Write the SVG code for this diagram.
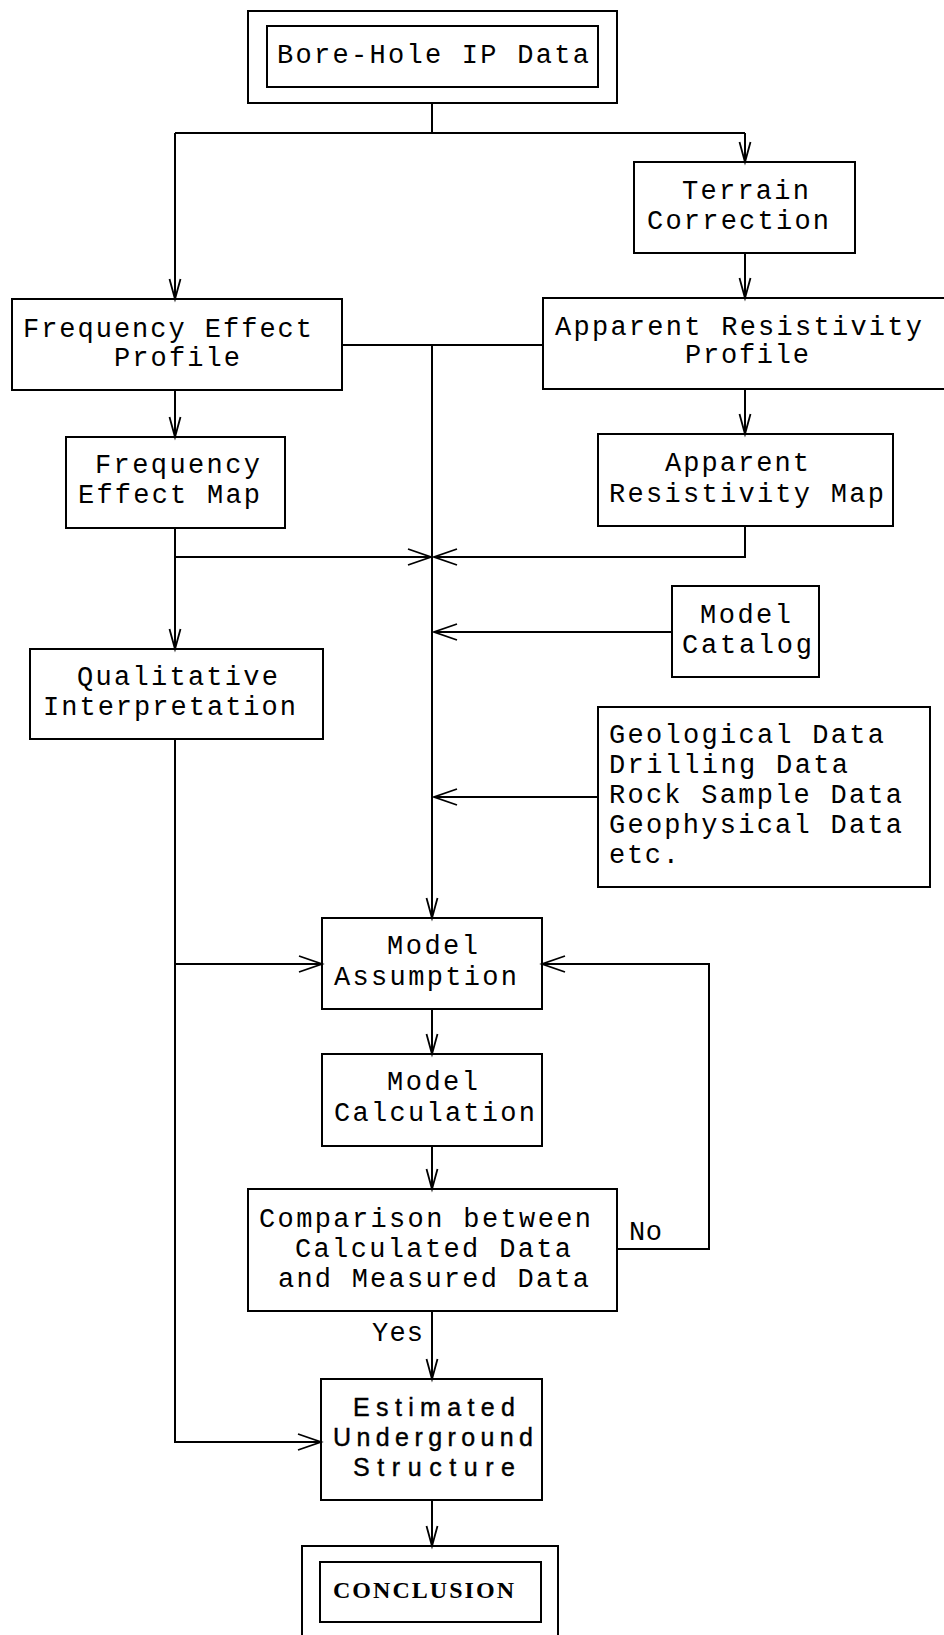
<svg xmlns="http://www.w3.org/2000/svg" width="944" height="1635" viewBox="0 0 944 1635">
<style>
.bx{fill:none;stroke:#000;stroke-width:2}
.ln{fill:none;stroke:#000;stroke-width:2}
.t{font-family:"Liberation Mono","DejaVu Sans Mono",monospace;font-size:27px;fill:#000}
.s{font-family:"Liberation Sans","Arial",sans-serif;font-size:25px;fill:#000;stroke:#000;stroke-width:0.4}
.c{font-family:"Liberation Serif","Times New Roman",serif;font-size:24px;font-weight:bold;fill:#000}
</style>
<defs>
<marker id="av" markerUnits="userSpaceOnUse" markerWidth="24" markerHeight="14" refX="0" refY="0" orient="auto" overflow="visible">
<path d="M-20,-5.5 L0,0 L-20,5.5" fill="none" stroke="#000" stroke-width="1.8"/>
</marker>
<marker id="ah" markerUnits="userSpaceOnUse" markerWidth="26" markerHeight="18" refX="0" refY="0" orient="auto" overflow="visible">
<path d="M-23,-8 L0,0 L-23,8" fill="none" stroke="#000" stroke-width="1.8"/>
</marker>
</defs>

<g id="connectors">
<path class="ln" d="M432,103 V133"/>
<path class="ln" d="M175,133 H745"/>
<path class="ln" d="M175,133 V299" marker-end="url(#av)"/>
<path class="ln" d="M745,133 V162" marker-end="url(#av)"/>
<path class="ln" d="M745,253 V298" marker-end="url(#av)"/>
<path class="ln" d="M342,345 H543"/>
<path class="ln" d="M432,345 V918" marker-end="url(#av)"/>
<path class="ln" d="M175,390 V437" marker-end="url(#av)"/>
<path class="ln" d="M745,389 V434" marker-end="url(#av)"/>
<path class="ln" d="M175,528 V649" marker-end="url(#av)"/>
<path class="ln" d="M175,557 H431" marker-end="url(#ah)"/>
<path class="ln" d="M745,526 V557 H434" marker-end="url(#ah)"/>
<path class="ln" d="M672,632 H434" marker-end="url(#ah)"/>
<path class="ln" d="M598,797 H434" marker-end="url(#ah)"/>
<path class="ln" d="M175,739 V1442 H321" marker-end="url(#ah)"/>
<path class="ln" d="M175,964 H322" marker-end="url(#ah)"/>
<path class="ln" d="M432,1009 V1054" marker-end="url(#av)"/>
<path class="ln" d="M432,1146 V1189" marker-end="url(#av)"/>
<path class="ln" d="M617,1249 H709 V964 H542" marker-end="url(#ah)"/>
<path class="ln" d="M432,1311 V1379" marker-end="url(#av)"/>
<path class="ln" d="M432,1500 V1546" marker-end="url(#av)"/>
<text class="t" x="629" y="1240" textLength="33" lengthAdjust="spacing">No</text>
<text class="t" x="372" y="1341" textLength="51" lengthAdjust="spacing">Yes</text>
</g>

<g id="bore">
<rect class="bx" x="248" y="11" width="369" height="92"/>
<rect class="bx" x="267" y="26" width="331" height="61"/>
<text class="t" x="277" y="63" textLength="312" lengthAdjust="spacing">Bore-Hole IP Data</text>
</g>

<g id="terrain">
<rect class="bx" x="634" y="162" width="221" height="91"/>
<text class="t" x="682" y="199" textLength="127" lengthAdjust="spacing">Terrain</text>
<text class="t" x="647" y="229" textLength="182" lengthAdjust="spacing">Correction</text>
</g>

<g id="fep">
<rect class="bx" x="12" y="299" width="330" height="91"/>
<text class="t" x="23" y="337" textLength="289" lengthAdjust="spacing">Frequency Effect</text>
<text class="t" x="114" y="366" textLength="126" lengthAdjust="spacing">Profile</text>
</g>

<g id="arp">
<rect class="bx" x="543" y="298" width="410" height="91"/>
<text class="t" x="555" y="335" textLength="367" lengthAdjust="spacing">Apparent Resistivity</text>
<text class="t" x="685" y="363" textLength="124" lengthAdjust="spacing">Profile</text>
</g>

<g id="fem">
<rect class="bx" x="66" y="437" width="219" height="91"/>
<text class="t" x="95" y="473" textLength="165" lengthAdjust="spacing">Frequency</text>
<text class="t" x="78" y="503" textLength="182" lengthAdjust="spacing">Effect Map</text>
</g>

<g id="arm">
<rect class="bx" x="598" y="434" width="295" height="92"/>
<text class="t" x="665" y="471" textLength="144" lengthAdjust="spacing">Apparent</text>
<text class="t" x="609" y="502" textLength="275" lengthAdjust="spacing">Resistivity Map</text>
</g>

<g id="catalog">
<rect class="bx" x="672" y="586" width="147" height="91"/>
<text class="t" x="700" y="623" textLength="91" lengthAdjust="spacing">Model</text>
<text class="t" x="682" y="653" textLength="130" lengthAdjust="spacing">Catalog</text>
</g>

<g id="qi">
<rect class="bx" x="30" y="649" width="293" height="90"/>
<text class="t" x="77" y="685" textLength="201" lengthAdjust="spacing">Qualitative</text>
<text class="t" x="43" y="715" textLength="253" lengthAdjust="spacing">Interpretation</text>
</g>

<g id="geo">
<rect class="bx" x="598" y="707" width="332" height="180"/>
<text class="t" x="609" y="743" textLength="275" lengthAdjust="spacing">Geological Data</text>
<text class="t" x="609" y="773" textLength="239" lengthAdjust="spacing">Drilling Data</text>
<text class="t" x="609" y="803" textLength="293" lengthAdjust="spacing">Rock Sample Data</text>
<text class="t" x="609" y="833" textLength="293" lengthAdjust="spacing">Geophysical Data</text>
<text class="t" x="609" y="863" textLength="70" lengthAdjust="spacing">etc.</text>
</g>

<g id="assumption">
<rect class="bx" x="322" y="918" width="220" height="91"/>
<text class="t" x="387" y="954" textLength="91" lengthAdjust="spacing">Model</text>
<text class="t" x="334" y="985" textLength="183" lengthAdjust="spacing">Assumption</text>
</g>

<g id="calculation">
<rect class="bx" x="322" y="1054" width="220" height="92"/>
<text class="t" x="387" y="1090" textLength="91" lengthAdjust="spacing">Model</text>
<text class="t" x="334" y="1121" textLength="201" lengthAdjust="spacing">Calculation</text>
</g>

<g id="comparison">
<rect class="bx" x="248" y="1189" width="369" height="122"/>
<text class="t" x="259" y="1227" textLength="332" lengthAdjust="spacing">Comparison between</text>
<text class="t" x="295" y="1257" textLength="276" lengthAdjust="spacing">Calculated Data</text>
<text class="t" x="278" y="1287" textLength="311" lengthAdjust="spacing">and Measured Data</text>
</g>

<g id="estimated">
<rect class="bx" x="321" y="1379" width="221" height="121"/>
<text class="s" x="353" y="1416" textLength="162" lengthAdjust="spacing">Estimated</text>
<text class="s" x="333" y="1446" textLength="200" lengthAdjust="spacing">Underground</text>
<text class="s" x="353" y="1476" textLength="162" lengthAdjust="spacing">Structure</text>
</g>

<g id="conclusion">
<rect class="bx" x="302" y="1546" width="256" height="100"/>
<rect class="bx" x="320" y="1562" width="221" height="60"/>
<text class="c" x="333" y="1598" textLength="181" lengthAdjust="spacing">CONCLUSION</text>
</g>
</svg>
